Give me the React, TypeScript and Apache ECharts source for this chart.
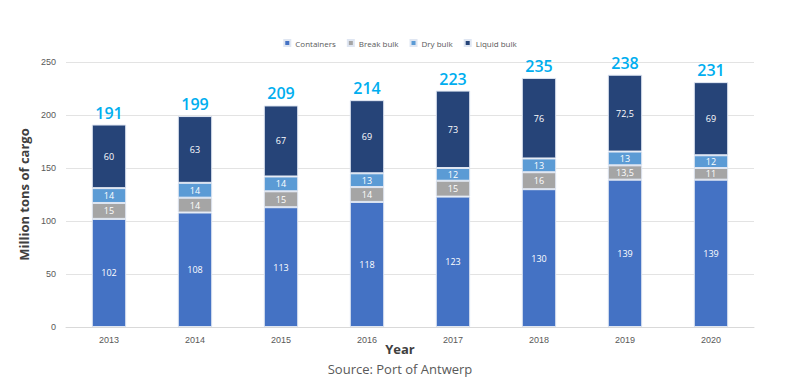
import React, { useEffect, useRef } from "react";
import * as echarts from "echarts";

const years = ["2013", "2014", "2015", "2016", "2017", "2018", "2019", "2020"];
const containers = [102, 108, 113, 118, 123, 130, 139, 139];
const breakBulk = [15, 14, 15, 14, 15, 16, 13.5, 11];
const dryBulk = [14, 14, 14, 13, 12, 13, 13, 12];
const liquidBulk = [60, 63, 67, 69, 73, 76, 72.5, 69];
const totals = [191, 199, 209, 214, 223, 235, 238, 231];

const fmt = (v: number) => String(v).replace(".", ",");

export default function App() {
  const ref = useRef<HTMLDivElement>(null);
  useEffect(() => {
    if (!ref.current) return;
    const chart = echarts.init(ref.current, undefined, { renderer: "svg" });
    const inLabel = {
      show: true,
      position: "inside" as const,
      color: "#ffffff",
      fontSize: 9,
      fontFamily: "Open Sans",
      formatter: (p: any) => fmt(p.value),
    };
    const mk = (name: string, data: number[], color: string) => ({
      name,
      type: "bar",
      stack: "total",
      data,
      barWidth: "40%",
      itemStyle: { color, borderColor: "#dfe6f2", borderWidth: 1 },
      label: inLabel,
    });
    chart.setOption({
      animation: false,
      legend: {
        top: 34,
        left: "center",
        itemWidth: 6,
        itemHeight: 6,
        itemGap: 11,
        icon: "rect",
        textStyle: { fontSize: 8, color: "#595959", fontFamily: "Open Sans" },
        data: ["Containers", "Break bulk", "Dry bulk", "Liquid bulk"],
      },
      grid: { left: 66, right: 46, top: 62, bottom: 53 },
      xAxis: {
        type: "category",
        data: years,
        axisTick: { show: false },
        axisLine: { lineStyle: { color: "#d9d9d9" } },
        axisLabel: { fontSize: 9, color: "#595959", margin: 8 },
      },
      yAxis: {
        type: "value",
        min: 0,
        max: 250,
        interval: 50,
        name: "Million tons of cargo",
        nameLocation: "middle",
        nameGap: 28,
        nameTextStyle: { fontSize: 13, fontWeight: "bold", color: "#404040", fontFamily: "Open Sans" },
        axisLabel: { fontSize: 9, color: "#595959", margin: 10 },
        splitLine: { lineStyle: { color: "#e3e3e3" } },
        axisLine: { show: false },
        axisTick: { show: false },
      },
      graphic: [
        {
          type: "text",
          left: "center",
          top: 342,
          style: {
            text: "Year",
            fontSize: 13,
            fontWeight: "bold",
            fill: "#404040",
            fontFamily: "Open Sans",
          },
        },
        {
          type: "text",
          left: "center",
          top: 362,
          style: {
            text: "Source: Port of Antwerp",
            fontSize: 13,
            fill: "#595959",
            fontFamily: "Open Sans",
          },
        },
      ],
      series: [
        mk("Containers", containers, "#4472c4"),
        mk("Break bulk", breakBulk, "#a5a5a5"),
        mk("Dry bulk", dryBulk, "#5b9bd5"),
        mk("Liquid bulk", liquidBulk, "#264478"),
        {
          name: "Total",
          type: "bar",
          stack: "total",
          data: totals.map(() => 0),
          barWidth: "40%",
          itemStyle: { color: "transparent" },
          label: {
            show: true,
            position: "top",
            distance: 4,
            color: "#00aeef",
            fontSize: 16,
            fontWeight: 600,
            fontFamily: "Open Sans",
            formatter: (p: any) => String(totals[p.dataIndex]),
          },
        },
      ],
    });
    return () => chart.dispose();
  }, []);
  return (
    <div
      ref={ref}
      style={{ position: "absolute", left: 0, top: 0, width: 800, height: 380 }}
    />
  );
}
